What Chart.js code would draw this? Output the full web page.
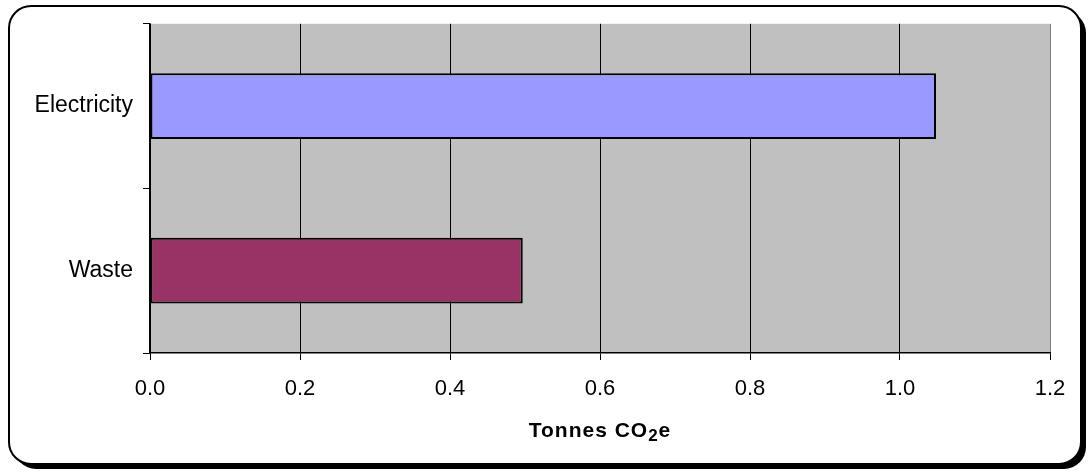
<!DOCTYPE html>
<html>
<head>
<meta charset="utf-8">
<script src="https://cdn.jsdelivr.net/npm/chart.js@4"></script>
<style>
  body { margin: 0; background: #fff; }
  canvas { display: block; }
</style>
</head>
<body>
<canvas id="chart" width="1088" height="472"></canvas>
<script>

// values
const categories = ['Electricity', 'Waste'];
const emissions = [1.048, 0.497];
const barColors = ['#9999FF', '#993366'];
const xMin = 0;
const xMax = 1.2;
const xStep = 0.2;
const axisTitle = ['Tonnes CO', '2', 'e'];

const font = "'Liberation Sans', Arial, sans-serif";

// rounded outer frame with shadow + grey plot background
const framePlugin = {
    id: 'frame',
    beforeDraw(chart) {
        const ctx = chart.ctx;
        const a = chart.chartArea;

        ctx.save();
        ctx.fillStyle = '#fff';
        ctx.fillRect(0, 0, chart.width, chart.height);

        ctx.fillStyle = '#000';
        ctx.beginPath();
        ctx.roundRect(14, 11, 1072, 458, 22);
        ctx.fill();

        ctx.beginPath();
        ctx.roundRect(9, 6, 1072, 458, 22);
        ctx.fillStyle = '#fff';
        ctx.fill();
        ctx.lineWidth = 2;
        ctx.strokeStyle = '#000';
        ctx.stroke();

        ctx.fillStyle = '#C0C0C0';
        ctx.fillRect(a.left, a.top, a.right - a.left, a.bottom - a.top);
        ctx.restore();
    }
};

// axis title with subscript 2
const titlePlugin = {
    id: 'xtitle',
    afterDraw(chart) {
        const ctx = chart.ctx;
        const a = chart.chartArea;
        const big = `bold 21px ${font}`;
        const small = `bold 17px ${font}`;

        ctx.save();
        ctx.fillStyle = '#000';
        ctx.textBaseline = 'alphabetic';
        ctx.textAlign = 'left';
        ctx.letterSpacing = '1px';

        ctx.font = big;
        const w1 = ctx.measureText(axisTitle[0]).width;
        const w3 = ctx.measureText(axisTitle[2]).width;
        ctx.font = small;
        const w2 = ctx.measureText(axisTitle[1]).width;

        let x = (a.left + a.right) / 2 - (w1 + w2 + w3) / 2;
        const y = 437;

        ctx.font = big;
        ctx.fillText(axisTitle[0], x, y);
        x += w1;
        ctx.font = small;
        ctx.fillText(axisTitle[1], x, y + 4);
        x += w2;
        ctx.font = big;
        ctx.fillText(axisTitle[2], x, y);
        ctx.restore();
    }
};

const chart = new Chart(document.getElementById('chart'), {
    type: 'bar',
    data: {
        labels: categories,
        datasets: [{
            data: emissions,
            backgroundColor: barColors,
            borderColor: '#000',
            borderWidth: 2,
            borderSkipped: false,
            barPercentage: 0.4,
            categoryPercentage: 1.0
        }]
    },
    options: {
        indexAxis: 'y',
        responsive: false,
        animation: false,
        layout: { padding: { top: 23, right: 38, left: 0, bottom: 0 } },
        plugins: {
            legend: { display: false },
            tooltip: { enabled: false }
        },
        scales: {
            x: {
                min: xMin,
                max: xMax,
                ticks: {
                    stepSize: xStep,
                    callback: v => v.toFixed(1),
                    color: '#000',
                    font: { family: font, size: 22 },
                    padding: 16
                },
                grid: {
                    color: c => (c.index === 6 ? '#808080' : '#000'),
                    lineWidth: 1,
                    tickLength: 7,
                    tickColor: '#000'
                },
                border: { display: true, color: '#000', width: 1.5 },
                afterFit: s => { s.height = 119; }
            },
            y: {
                offset: true,
                ticks: {
                    color: '#000',
                    font: { family: font, size: 23 },
                    padding: 10
                },
                grid: {
                    offset: true,
                    drawOnChartArea: false,
                    tickLength: 7,
                    tickColor: '#000'
                },
                border: { display: true, color: '#000', width: 1.5 },
                afterFit: s => { s.width = 150; }
            }
        }
    },
    plugins: [framePlugin, titlePlugin]
});

console.log(chart.chartArea);
</script>
</body>
</html>
